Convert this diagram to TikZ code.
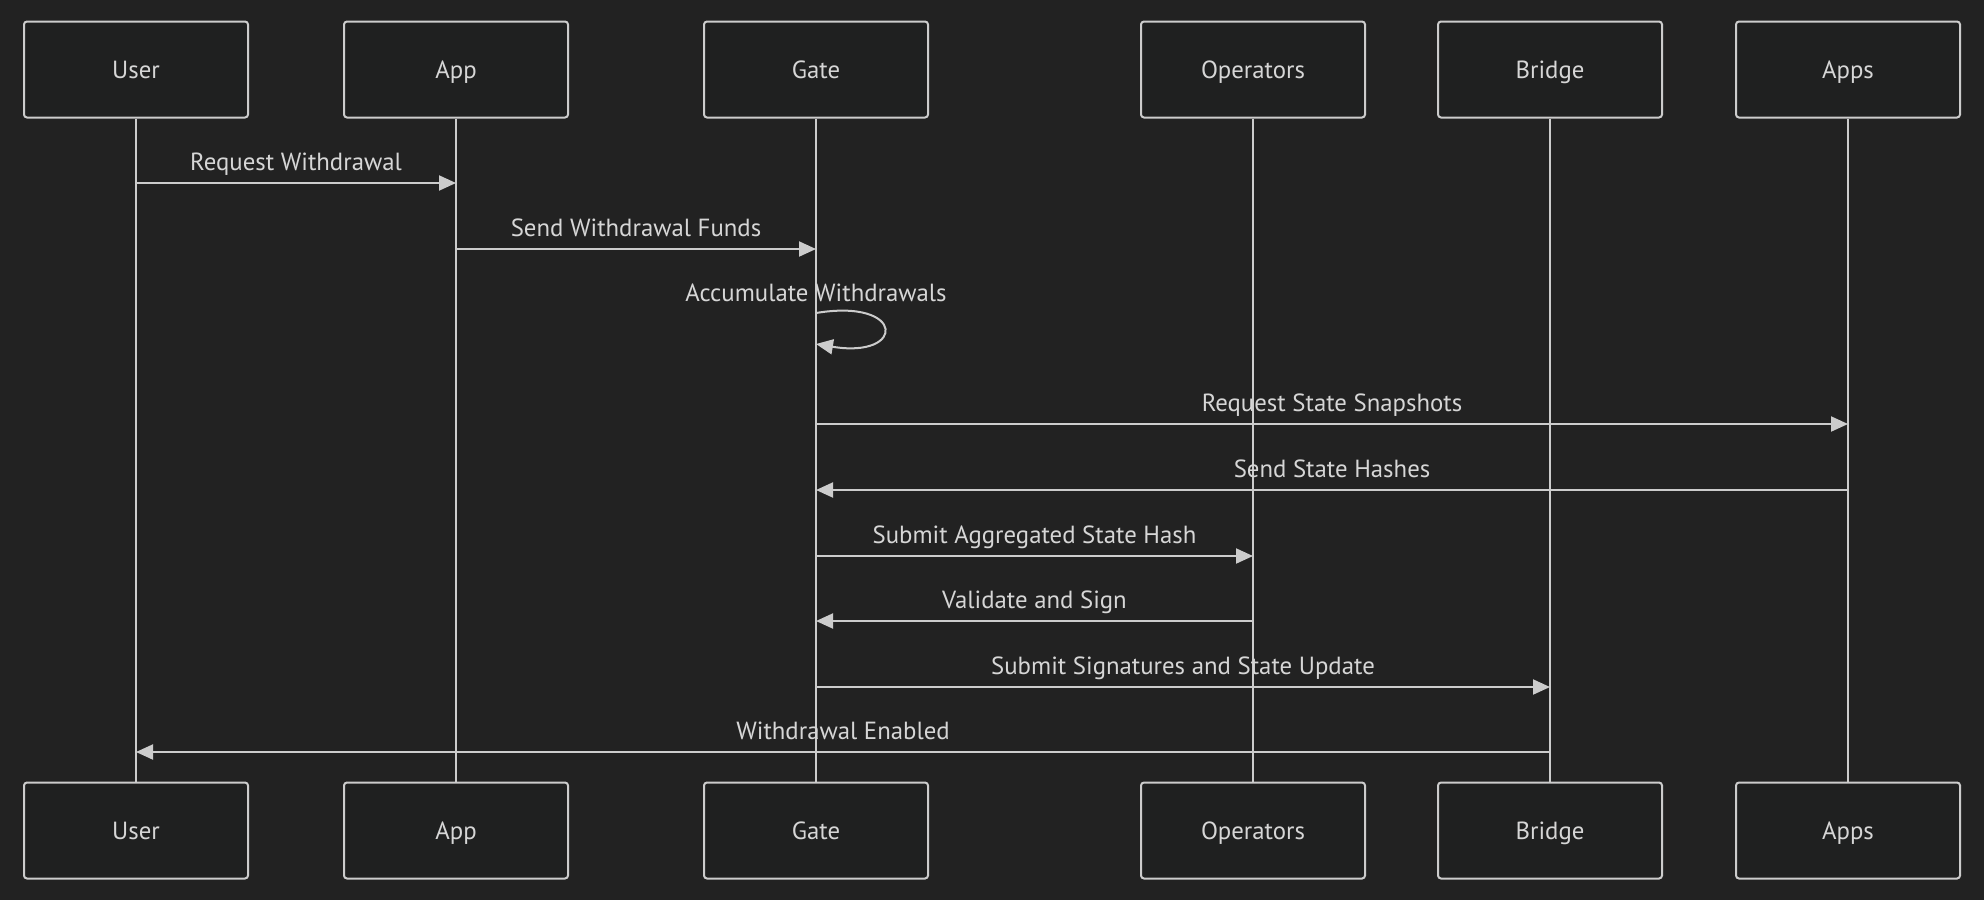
\documentclass[tikz,border=0pt]{standalone}
\usepackage{fontspec}
\setmainfont{PT Sans}
\usetikzlibrary{arrows.meta,calc}
\definecolor{bgc}{HTML}{222222}
\definecolor{boxfill}{HTML}{1F2020}
\definecolor{linec}{HTML}{CCCCCC}
\definecolor{textc}{HTML}{D6D6D6}
\begin{document}
\begin{tikzpicture}[x=0.5pt,y=-0.5pt,
  actor/.style={draw=linec,fill=boxfill,line width=1pt,rounded corners=1.5pt,
    minimum width=112pt,minimum height=48pt,inner sep=0pt,
    text height=0.9em,text depth=0pt,
    text=textc,font=\fontsize{12.4pt}{14pt}\selectfont},
  life/.style={draw=linec,line width=1pt},
  msg/.style={draw=linec,line width=1pt,-{Triangle[length=8.5pt,width=7.5pt]}},
  lbl/.style={text=textc,font=\fontsize{12.4pt}{14pt}\selectfont,anchor=base,inner sep=0pt}]
\fill[bgc] (0,0) rectangle (1984,900);
\useasboundingbox (0,0) rectangle (1984,900);
% actors top
\node[actor] (userT) at (136,69.5) {User};
\node[actor] (appT) at (456,69.5) {App};
\node[actor] (gateT) at (816,69.5) {Gate};
\node[actor] (opT) at (1253,69.5) {Operators};
\node[actor] (brT) at (1550,69.5) {Bridge};
\node[actor] (appsT) at (1848,69.5) {Apps};
% actors bottom
\node[actor] (userB) at (136,830.5) {User};
\node[actor] (appB) at (456,830.5) {App};
\node[actor] (gateB) at (816,830.5) {Gate};
\node[actor] (opB) at (1253,830.5) {Operators};
\node[actor] (brB) at (1550,830.5) {Bridge};
\node[actor] (appsB) at (1848,830.5) {Apps};
% lifelines
\foreach \a in {user,app,gate,op,br,apps}{
  \draw[life] (\a T.south) -- (\a B.north);
}
% message levels
\coordinate (m1) at (0,183);
\coordinate (m2) at (0,249);
\coordinate (l1) at (0,313);
\coordinate (l2) at (0,344);
\coordinate (m3) at (0,424);
\coordinate (m4) at (0,490);
\coordinate (m5) at (0,556);
\coordinate (m6) at (0,621);
\coordinate (m7) at (0,687);
\coordinate (m8) at (0,752);
\coordinate (lt) at (0,301);
% messages
\draw[msg] (userT |- m1) -- node[lbl,yshift=6.5pt]{Request Withdrawal} (appT |- m1);
\draw[msg] (appT |- m2) -- node[lbl,yshift=6.5pt]{Send Withdrawal Funds} (gateT |- m2);
\node[lbl] (accl) at (gateT |- lt) {Accumulate Withdrawals};
\draw[msg] (gateT |- l1) .. controls +(90,-15) and +(90,15) .. (gateT |- l2);
\draw[msg] (gateT |- m3) -- node[lbl,yshift=6.5pt]{Request State Snapshots} (appsT |- m3);
\draw[msg] (appsT |- m4) -- node[lbl,yshift=6.5pt]{Send State Hashes} (gateT |- m4);
\draw[msg] (gateT |- m5) -- node[lbl,yshift=6.5pt]{Submit Aggregated State Hash} (opT |- m5);
\draw[msg] (opT |- m6) -- node[lbl,yshift=6.5pt]{Validate and Sign} (gateT |- m6);
\draw[msg] (gateT |- m7) -- node[lbl,yshift=6.5pt]{Submit Signatures and State Update} (brT |- m7);
\draw[msg] (brT |- m8) -- node[lbl,yshift=6.5pt]{Withdrawal Enabled} (userT |- m8);
\end{tikzpicture}
\end{document}
